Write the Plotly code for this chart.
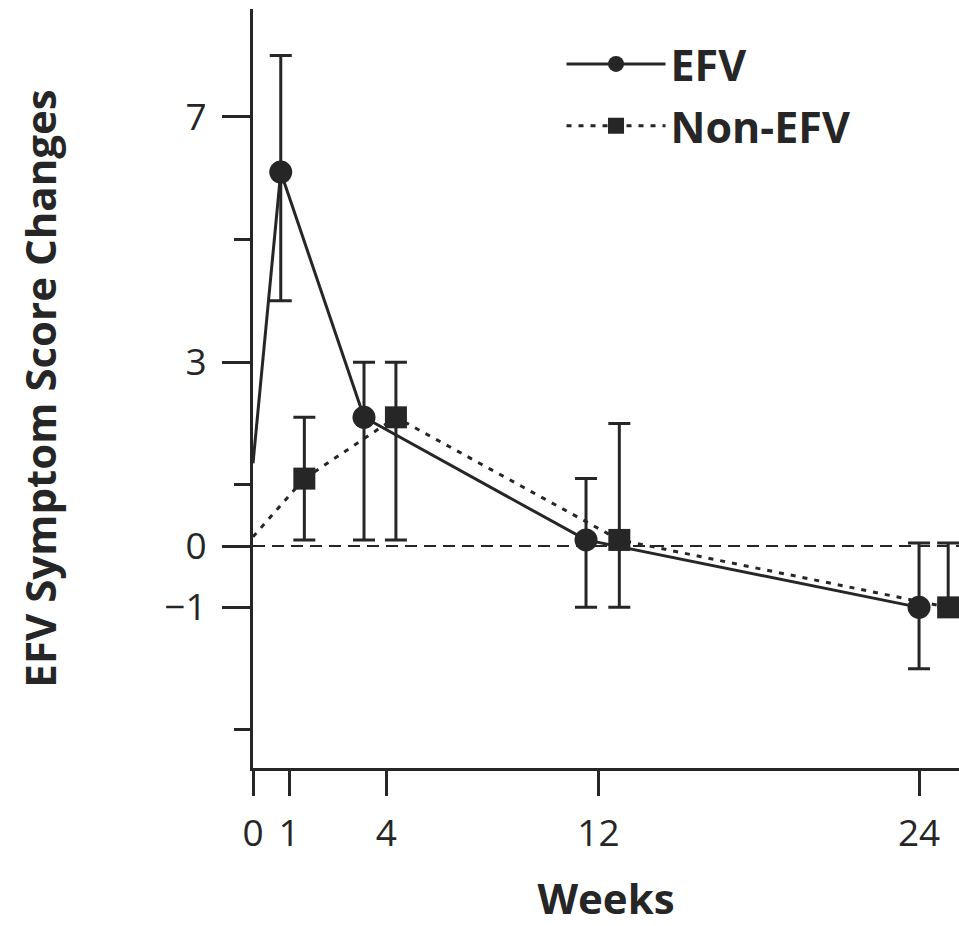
import plotly.graph_objects as go

# ---- data ----
weeks = [0, 1, 4, 12, 24]
tick_labels = ["0", "1", "4", "12", "24"]
tick_pos = [0, 1.3, 4.8, 12.45, 24.0]          # where the tick marks are drawn (weeks axis units)

efv_mean = [1.35, 6.1, 2.1, 0.1, -1.0]
efv_err_plus = [0, 1.9, 0.9, 1.0, 1.05]
efv_err_minus = [0, 2.1, 2.0, 1.1, 1.0]

non_offset = [0, 0.85, 1.15, 1.2, 1.05]        # horizontal dodge of the Non-EFV series
non_mean = [0.15, 1.1, 2.1, 0.1, -1.0]
non_err_plus = [0, 1.0, 0.9, 1.9, 1.05]
non_err_minus = [0, 1.0, 2.0, 1.1, 0.0]

y_major = [7, 3, 0, -1]
y_major_text = ["7", "3", "0", "\u22121"]
y_minor = [5, 1, -3]

INK = "#262626"
FONT = "Open Sans"

efv_x = weeks
non_x = [w + o for w, o in zip(weeks, non_offset)]

fig = go.Figure()

# lead-in segments from week 0 (no marker)
fig.add_trace(go.Scatter(x=efv_x[:2], y=efv_mean[:2], mode="lines",
                         line=dict(color=INK, width=3), showlegend=False, hoverinfo="skip"))
fig.add_trace(go.Scatter(x=non_x[:2], y=non_mean[:2], mode="lines",
                         line=dict(color=INK, width=3, dash="5px,7px"), showlegend=False,
                         hoverinfo="skip"))

fig.add_trace(go.Scatter(
    x=efv_x[1:], y=efv_mean[1:], mode="lines+markers", name="EFV", legendgroup="a",
    line=dict(color=INK, width=3),
    marker=dict(symbol="circle", size=23, color=INK),
    error_y=dict(type="data", symmetric=False, array=efv_err_plus[1:],
                 arrayminus=efv_err_minus[1:], color=INK, thickness=3, width=11),
))
fig.add_trace(go.Scatter(
    x=non_x[1:], y=non_mean[1:], mode="lines+markers", name="Non-EFV", legendgroup="b",
    line=dict(color=INK, width=3, dash="5px,7px"),
    marker=dict(symbol="square", size=22, color=INK),
    error_y=dict(type="data", symmetric=False, array=non_err_plus[1:],
                 arrayminus=non_err_minus[1:], color=INK, thickness=3, width=11),
))

# dashed zero reference line
fig.add_shape(type="line", xref="paper", yref="y", x0=0, x1=1, y0=0, y1=0,
              line=dict(color=INK, width=2, dash="12px,7px"), layer="below")

fig.update_layout(
    width=959, height=926,
    margin=dict(l=253, r=0, t=9, b=158),
    paper_bgcolor="white", plot_bgcolor="white",
    font=dict(family=FONT, color=INK),
    showlegend=True,
    legend=dict(x=0.437, y=0.973, xanchor="left", yanchor="top",
                font=dict(family=FONT, size=43, color=INK, weight="bold"),
                bgcolor="rgba(0,0,0,0)", itemwidth=99, tracegroupgap=3),
    xaxis=dict(range=[0, 25.44], showgrid=False, zeroline=False,
               showline=True, linecolor=INK, linewidth=3,
               ticks="outside", ticklen=25, tickwidth=3, tickcolor=INK,
               tickmode="array", tickvals=tick_pos, ticktext=tick_labels,
               tickfont=dict(family=FONT, size=37, color=INK),
               ticklabelstandoff=6,
               title=dict(text="Weeks", font=dict(family=FONT, size=42, color=INK, weight="bold"),
                          standoff=40)),
    yaxis=dict(range=[-3.62, 8.76], showgrid=False, zeroline=False,
               showline=True, linecolor=INK, linewidth=3,
               ticks="outside", ticklen=28, tickwidth=3, tickcolor=INK,
               tickmode="array", tickvals=y_major, ticktext=y_major_text,
               tickfont=dict(family=FONT, size=37, color=INK),
               ticklabelstandoff=8,
               minor=dict(tickmode="array", tickvals=y_minor, ticks="outside", ticklen=16,
                          tickwidth=3, tickcolor=INK, showgrid=False),
               title=dict(text="EFV Symptom Score Changes",
                          font=dict(family=FONT, size=42, color=INK, weight="bold"),
                          standoff=95)),
)

fig.write_html("out.html")
